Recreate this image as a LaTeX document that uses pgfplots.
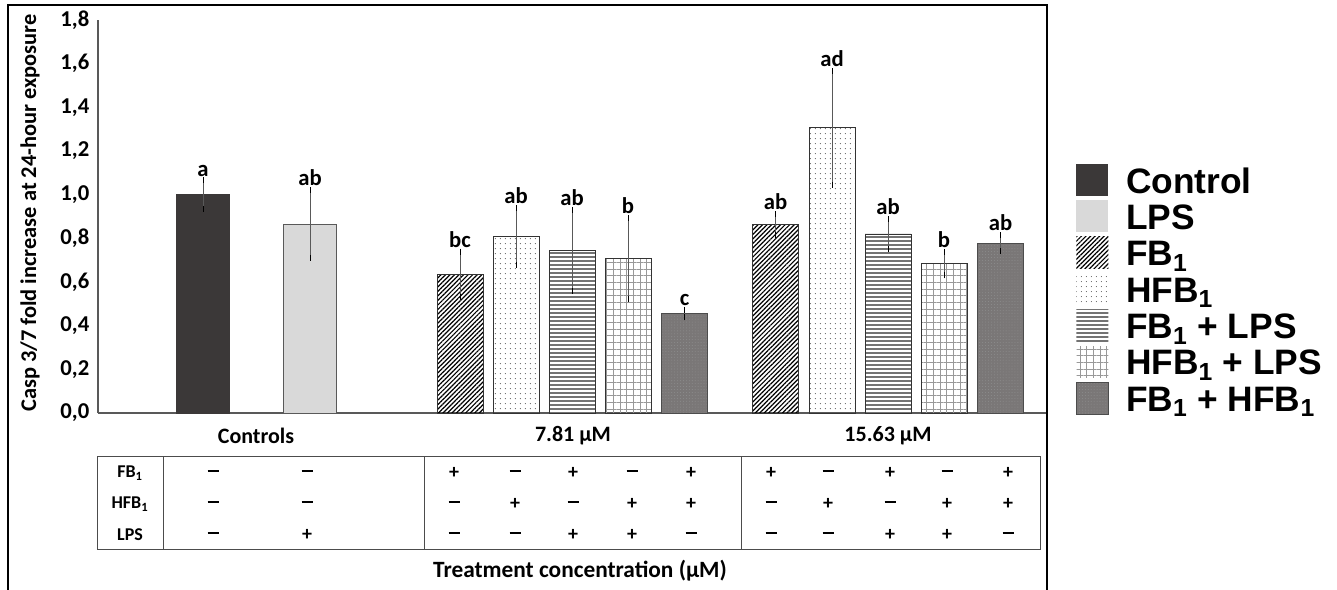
\documentclass[border=0pt]{standalone}
\usepackage{fontspec}
\setmainfont{Carlito}
\newfontfamily\legendfont{Liberation Sans}
\usepackage{pgfplots}
\pgfplotsset{compat=1.18}
\usepackage{pgfplotstable}
\usetikzlibrary{patterns,patterns.meta}

\definecolor{ctrl}{HTML}{3B3838}
\definecolor{lps}{HTML}{D9D9D9}
\definecolor{dk}{HTML}{7A7777}
\definecolor{edge}{HTML}{595959}

\newcommand{\px}[2]{({(#1)*0.75pt},{(589-(#2))*0.75pt})}
\newcommand{\mn}{\rule[0.2em]{0.55em}{0.13em}}

\pgfplotstableread{
x y e
203 1.000 0.065
}\tctrl
\pgfplotstableread{
x y e
310 0.865 0.155
}\tlps
\pgfplotstableread{
x y e
460 0.634 0.105
775.5 0.864 0.047
}\tfb
\pgfplotstableread{
x y e
516 0.808 0.130
832 1.306 0.260
}\thfb
\pgfplotstableread{
x y e
572 0.745 0.185
888 0.820 0.067
}\tfblps
\pgfplotstableread{
x y e
628 0.707 0.185
944 0.683 0.053
}\thfblps
\pgfplotstableread{
x y e
684.5 0.455 0.017
1000.5 0.777 0.037
}\tfbhfb
\pgfplotstableread{
x y l
203 1.065 a
310 1.020 ab
460 0.739 bc
516 0.938 ab
572 0.930 ab
628 0.892 b
684.5 0.472 c
775.5 0.911 ab
832 1.566 ad
888 0.887 ab
944 0.736 b
1000.5 0.814 ab
}\tletters

\pgfplotsset{
  eb/.style={error bars/.cd, y dir=both, y explicit,
    error bar style={draw=edge, line width=0.75pt},
    error mark options={draw=black, line width=0.75pt, mark size=2.25pt}},
}

\begin{document}
\begin{tikzpicture}
\useasboundingbox (0,0) rectangle (1002.75pt,441.75pt);
\draw[line width=1.5pt] \px{8}{600} -- \px{8}{5} -- \px{1047}{5} -- \px{1047}{600};
\begin{axis}[
  at={(73.5pt,132pt)}, anchor=south west,
  scale only axis, width=711pt, height=294.75pt,
  xmin=98, xmax=1046, ymin=0, ymax=1.8,
  axis x line*=bottom, axis y line*=left,
  axis line style={draw=black!65, line width=0.8pt, -},
  xtick=\empty,
  ytick={0,0.2,0.4,0.6,0.8,1.0,1.2,1.4,1.6,1.8},
  major tick length=0pt,
  yticklabel style={font=\bfseries\fontsize{17}{17}\selectfont, xshift=-3pt,
    /pgf/number format/.cd, fixed, fixed zerofill, precision=1, use comma, assume math mode=true},
  clip=false,
  legend style={draw=none, fill=none, at={(1.0316,0.64)}, anchor=north west,
    inner sep=0pt, outer sep=0pt, row sep=0pt, column sep=11pt,
    font=\legendfont\bfseries\fontsize{26.5}{26.5}\selectfont,
    cells={anchor=base west, text height=21.75pt, text depth=5.45pt, inner sep=0pt}},
  legend image code/.code={\path[#1, draw=none] (0pt,-2.25pt) rectangle (24pt,21.75pt);},
]
\addplot[ybar, bar width=53, fill=ctrl, draw=ctrl, line width=0.6pt, eb] table[x=x,y=y,y error=e]{\tctrl};
\addlegendentry{Control}
\addplot[ybar, bar width=53, fill=lps, draw=edge, line width=0.6pt, eb] table[x=x,y=y,y error=e]{\tlps};
\addlegendentry{LPS}
\addplot[ybar, bar width=46, draw=black!80, line width=0.6pt,
  pattern={Lines[angle=45,distance=2.4pt,line width=0.9pt]}, pattern color=black, eb] table[x=x,y=y,y error=e]{\tfb};
\addlegendentry{FB\textsubscript{1}}
\addplot[ybar, bar width=46, draw=black!80, line width=0.6pt,
  pattern={Dots[distance=4pt,radius=0.45pt]}, pattern color=black!60, eb] table[x=x,y=y,y error=e]{\thfb};
\addlegendentry{HFB\textsubscript{1}}
\addplot[ybar, bar width=46, draw=black!80, line width=0.6pt,
  pattern={Lines[angle=0,distance=3pt,line width=1.1pt]}, pattern color=black!55, eb] table[x=x,y=y,y error=e]{\tfblps};
\addlegendentry{FB\textsubscript{1} + LPS}
\addplot[ybar, bar width=46, draw=black!80, line width=0.6pt,
  pattern={Hatch[distance=5pt,line width=0.5pt]}, pattern color=black!40, eb] table[x=x,y=y,y error=e]{\thfblps};
\addlegendentry{HFB\textsubscript{1} + LPS}
\addplot[ybar, bar width=46, draw=black!70, fill=dk, line width=0.6pt,
  postaction={pattern={Dots[distance=2.2pt,radius=0.4pt]}, pattern color=black!45}, eb] table[x=x,y=y,y error=e]{\tfbhfb};
\addlegendentry{FB\textsubscript{1} + HFB\textsubscript{1}}
\addplot[draw=none, mark=none, forget plot, nodes near coords, point meta=explicit symbolic,
  nodes near coords style={anchor=south, inner sep=0pt, yshift=3pt, black, font=\bfseries\fontsize{17}{17}\selectfont}]
  table[x=x,y=y,meta=l]{\tletters};
\end{axis}
% y label
\node[rotate=90, font=\bfseries\fontsize{16.8}{16.8}\selectfont] at \px{30}{213} {Casp 3/7 fold increase at 24-hour exposure};
% group labels
\begin{scope}[every node/.style={font=\bfseries\fontsize{16.5}{16.5}\selectfont}]
\node at \px{256}{436} {Controls};
\node at \px{573}{436} {7.81 µM};
\node at \px{888}{436} {15.63 µM};
\node[font=\bfseries\fontsize{17.5}{17.5}\selectfont] at \px{580}{571} {Treatment concentration (µM)};
\end{scope}
% treatment table
\draw[draw=black!70, line width=0.75pt] \px{97}{456} rectangle \px{1040}{549};
\draw[draw=black!70, line width=0.75pt] \px{163}{456} -- \px{163}{549};
\draw[draw=black!70, line width=0.75pt] \px{424}{456} -- \px{424}{549};
\draw[draw=black!70, line width=0.75pt] \px{741}{456} -- \px{741}{549};
\begin{scope}[every node/.style={font=\bfseries\fontsize{13.5}{13.5}\selectfont}]
\node at \px{130}{473} {FB\textsubscript{1}};
\node at \px{130}{504} {HFB\textsubscript{1}};
\node at \px{130}{535} {LPS};
\end{scope}
\begin{scope}[every node/.style={font=\bfseries\fontsize{15}{15}\selectfont}]
\foreach \xx/\a/\b/\c in {213/\mn/\mn/\mn, 307/\mn/\mn/+, 454/+/\mn/\mn, 515/\mn/+/\mn, 573/+/\mn/+, 632/\mn/+/+, 691/+/+/\mn, 771/+/\mn/\mn, 828/\mn/+/\mn, 890/+/\mn/+, 947/\mn/+/+, 1008/+/+/\mn}{
  \node at \px{\xx}{473} {\a};
  \node at \px{\xx}{504} {\b};
  \node at \px{\xx}{535} {\c};
}
\end{scope}
\end{tikzpicture}
\end{document}
